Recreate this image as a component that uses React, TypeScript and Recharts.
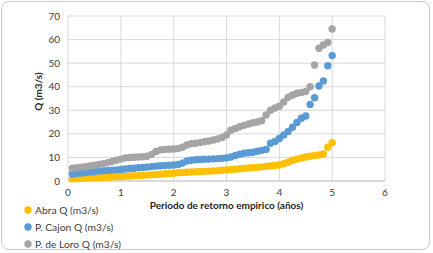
import React from "react";
import { ScatterChart, Scatter, XAxis, YAxis, CartesianGrid, Legend } from "recharts";

const xValues = [
  0.083, 0.167, 0.25, 0.333, 0.417, 0.5, 0.583, 0.667, 0.75, 0.833, 0.917, 1.0,
  1.083, 1.167, 1.25, 1.333, 1.417, 1.5, 1.583, 1.667, 1.75, 1.833, 1.917, 2.0,
  2.083, 2.167, 2.25, 2.333, 2.417, 2.5, 2.583, 2.667, 2.75, 2.833, 2.917, 3.0,
  3.083, 3.167, 3.25, 3.333, 3.417, 3.5, 3.583, 3.667, 3.75, 3.833, 3.917, 4.0,
  4.083, 4.167, 4.25, 4.333, 4.417, 4.5, 4.583, 4.667, 4.75, 4.833, 4.917, 5.0,
];

const abra = [
  0.9, 1.0, 1.1, 1.2, 1.3, 1.4, 1.5, 1.5, 1.6, 1.7, 1.8, 1.9,
  2.0, 2.1, 2.2, 2.3, 2.4, 2.5, 2.6, 2.8, 2.9, 3.1, 3.2, 3.3,
  3.5, 3.6, 3.7, 3.8, 3.9, 4.0, 4.1, 4.2, 4.3, 4.4, 4.6, 4.7,
  4.9, 5.0, 5.2, 5.3, 5.5, 5.6, 5.8, 6.0, 6.2, 6.4, 6.6, 6.8,
  7.3, 8.0, 8.8, 9.3, 9.8, 10.2, 10.5, 10.8, 11.0, 11.5, 14.3, 16.3,
];

const cajon = [
  3.0, 3.2, 3.4, 3.6, 3.8, 4.0, 4.2, 4.3, 4.5, 4.6, 4.7, 4.9,
  5.1, 5.3, 5.4, 5.6, 5.7, 5.9, 6.1, 6.3, 6.5, 6.6, 6.7, 6.8,
  7.0, 7.6, 8.5, 8.8, 9.0, 9.1, 9.2, 9.3, 9.4, 9.5, 9.6, 9.8,
  10.2, 10.8, 11.4, 11.8, 12.0, 12.2, 12.6, 13.0, 13.4, 16.0, 16.8, 18.0,
  19.5, 21.0, 22.8, 24.8, 26.6, 27.6, 32.5, 35.3, 40.3, 42.4, 48.9, 53.2,
];

const loro = [
  5.4, 5.6, 5.9, 6.1, 6.4, 6.7, 7.0, 7.3, 7.8, 8.3, 8.8, 9.3,
  9.8, 10.0, 10.1, 10.2, 10.3, 10.5, 11.3, 12.5, 13.2, 13.4, 13.5, 13.6,
  13.8, 14.3, 15.3, 15.8, 16.0, 16.3, 16.7, 17.0, 17.4, 17.8, 18.5, 19.5,
  21.5, 22.3, 23.0, 23.6, 24.2, 24.7, 25.0, 25.6, 28.0, 30.0, 31.0, 31.7,
  33.5, 35.5, 36.5, 37.2, 37.5, 38.0, 40.0, 49.2, 56.3, 57.7, 58.8, 64.5,
];

const seriesNames = ["Abra Q (m3/s)", "P. Cajon Q (m3/s)", "P. de Loro Q (m3/s)"];
const seriesColors = ["#FFC000", "#5B9BD5", "#A5A5A5"];
const xTicks = [0, 1, 2, 3, 4, 5, 6];
const yTicks = [0, 10, 20, 30, 40, 50, 60, 70];

const toPoints = (ys: number[]) => xValues.map((x, i) => ({ x, y: ys[i] }));
const seriesData = [toPoints(abra), toPoints(cajon), toPoints(loro)];

const FONT = "Lato, 'Liberation Sans', sans-serif";
const TEXT = "#404040";

const makeDot = (color: string) => (props: any) => (
  <circle cx={props.cx} cy={props.cy} r={3.7} fill={color} />
);

const LegendContent = () => (
  <div style={{ height: 52, fontFamily: FONT, fontSize: 10.3, color: TEXT }}>
    {seriesNames.map((name, i) => (
      <div key={name} style={{ height: 17.3, display: "flex", alignItems: "center" }}>
        <svg width={12} height={10} style={{ marginRight: 1 }}>
          <circle cx={6} cy={5} r={3.7} fill={seriesColors[i]} />
        </svg>
        <span>{name}</span>
      </div>
    ))}
  </div>
);

const YLabel = (props: any) => {
  const vb = props.viewBox || {};
  const x = vb.x + 10;
  const y = vb.y + vb.height / 2 - 7;
  return (
    <text
      x={x}
      y={y}
      transform={`rotate(-90, ${x}, ${y})`}
      textAnchor="middle"
      dominantBaseline="central"
      fontFamily={FONT}
      fontSize={10}
      fontWeight="bold"
      fill="#262626"
    >
      Q (m3/s)
    </text>
  );
};

export default function App() {
  return (
    <div
      style={{
        position: "absolute",
        left: 0,
        top: 0,
        width: 433,
        height: 253,
        background: "#fff",
      }}
    >
      <div
        style={{
          position: "absolute",
          left: 1,
          top: 1,
          width: 429,
          height: 249,
          border: "1px solid #c9c9c9",
          borderRadius: 8,
          boxSizing: "border-box",
        }}
      />
      <ScatterChart
        width={433}
        height={253}
        margin={{ top: 16, right: 48, left: 28, bottom: 0 }}
        style={{ position: "absolute", left: 0, top: 0 }}
      >
        <CartesianGrid stroke="#d9d9d9" strokeWidth={1} />
        <XAxis
          type="number"
          dataKey="x"
          domain={[0, 6]}
          ticks={xTicks}
          interval={0}
          height={20}
          tickLine={false}
          axisLine={{ stroke: "#c8c8c8" }}
          tick={{ fontFamily: FONT, fontSize: 10, fill: TEXT }}
          label={{
            value: "Periodo de retorno empirico (años)",
            position: "bottom",
            offset: 1,
            style: { fontFamily: FONT, fontSize: 10, fontWeight: "bold", fill: "#262626" },
          }}
        />
        <YAxis
          type="number"
          dataKey="y"
          domain={[0, 70]}
          ticks={yTicks}
          interval={0}
          width={40}
          tickLine={false}
          axisLine={false}
          tick={{ fontFamily: FONT, fontSize: 10, fill: TEXT }}
          label={<YLabel />}
        />
        <Legend
          verticalAlign="bottom"
          align="left"
          layout="horizontal"
          wrapperStyle={{ left: 22, bottom: 0, width: 150 }}
          content={<LegendContent />}
        />
        {seriesData.map((d, i) => (
          <Scatter
            key={seriesNames[i]}
            name={seriesNames[i]}
            data={d}
            fill={seriesColors[i]}
            shape={makeDot(seriesColors[i])}
            isAnimationActive={false}
          />
        ))}
      </ScatterChart>
    </div>
  );
}
